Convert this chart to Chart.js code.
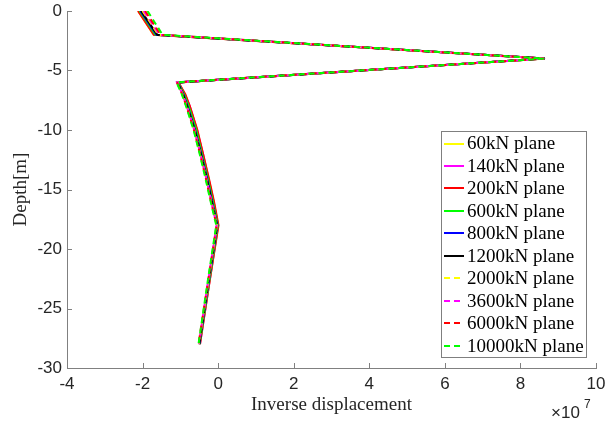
<!DOCTYPE html>
<html>
<head>
<meta charset="utf-8">
<title>Inverse displacement vs depth</title>
<script src="https://cdn.jsdelivr.net/npm/chart.js@4/dist/chart.umd.min.js"></script>
<style>
  html, body { margin: 0; padding: 0; background: #ffffff; }
  #wrap { width: 607px; height: 424px; }
</style>
</head>
<body>
<div id="wrap"><canvas id="plot" width="607" height="424"></canvas></div>
<script>
// Depth of each sample point [m]
const depthM = [0, -2, -4, -6, -7, -8, -10, -12, -14, -16, -18, -23, -28];

// Inverse displacement at each depth, in units of 1e7
const inv60kN    = [-2.12, -1.71, 8.65, -1.05, -0.88, -0.76, -0.56, -0.41, -0.26, -0.12,  0.00, -0.24, -0.49];
const inv140kN   = [-2.11, -1.70, 8.65, -1.05, -0.88, -0.75, -0.56, -0.40, -0.26, -0.12,  0.00, -0.24, -0.48];
const inv200kN   = [-2.12, -1.70, 8.65, -1.05, -0.87, -0.75, -0.55, -0.40, -0.25, -0.11,  0.01, -0.24, -0.48];
const inv600kN   = [-2.08, -1.66, 8.65, -1.06, -0.90, -0.78, -0.58, -0.43, -0.28, -0.14, -0.01, -0.25, -0.49];
const inv800kN   = [-2.06, -1.63, 8.64, -1.07, -0.92, -0.81, -0.61, -0.45, -0.30, -0.16, -0.02, -0.26, -0.50];
const inv1200kN  = [-2.04, -1.61, 8.64, -1.08, -0.93, -0.82, -0.62, -0.46, -0.31, -0.17, -0.03, -0.27, -0.50];
const inv2000kN  = [-2.00, -1.58, 8.63, -1.08, -0.94, -0.83, -0.63, -0.47, -0.32, -0.18, -0.03, -0.27, -0.51];
const inv3600kN  = [-1.97, -1.55, 8.63, -1.09, -0.94, -0.83, -0.63, -0.47, -0.32, -0.18, -0.04, -0.28, -0.51];
const inv6000kN  = [-1.93, -1.52, 8.62, -1.09, -0.95, -0.84, -0.64, -0.48, -0.33, -0.19, -0.04, -0.28, -0.52];
const inv10000kN = [-1.87, -1.47, 8.62, -1.10, -0.96, -0.85, -0.65, -0.49, -0.34, -0.20, -0.05, -0.29, -0.52];

const seriesLabels = ['60kN plane', '140kN plane', '200kN plane', '600kN plane', '800kN plane',
                      '1200kN plane', '2000kN plane', '3600kN plane', '6000kN plane', '10000kN plane'];
const seriesValues = [inv60kN, inv140kN, inv200kN, inv600kN, inv800kN,
                      inv1200kN, inv2000kN, inv3600kN, inv6000kN, inv10000kN];

// Axis ticks
const xTicks = [-4, -2, 0, 2, 4, 6, 8, 10];
const yTicks = [0, -5, -10, -15, -20, -25, -30];

const seriesColors = ['#ffff00', '#ff00ff', '#ff0000', '#00ff00', '#0000ff', '#000000',
                      '#ffff00', '#ff00ff', '#ff0000', '#00ff00'];
const seriesDashed = [false, false, false, false, false, false, true, true, true, true];

const DASH = [6, 4];
const SANS = '"Liberation Sans", Arial, sans-serif';
const SERIF = '"Liberation Serif", "Times New Roman", serif';
const INK = '#262626';
const AXIS = '#808080';

const datasets = seriesValues.map((vals, i) => ({
  label: seriesLabels[i],
  data: vals.map((v, k) => ({ x: v, y: depthM[k] })),
  borderColor: seriesColors[i],
  backgroundColor: seriesColors[i],
  borderWidth: 2,
  borderDash: seriesDashed[i] ? DASH : [],
  pointRadius: 0,
  tension: 0,
  fill: false,
  order: -i          // later series are painted on top
}));

// Inward tick marks, axis titles, exponent note and the boxed legend
const decorations = {
  id: 'decorations',
  afterDraw(chart) {
    const ctx = chart.ctx;
    const xs = chart.scales.x, ys = chart.scales.y;
    const area = chart.chartArea;
    ctx.save();

    // inward ticks
    ctx.strokeStyle = AXIS;
    ctx.lineWidth = 1;
    ctx.beginPath();
    xTicks.forEach(t => {
      const px = Math.round(xs.getPixelForValue(t)) + 0.5;
      ctx.moveTo(px, area.bottom);
      ctx.lineTo(px, area.bottom - 5);
    });
    yTicks.forEach(t => {
      const py = Math.round(ys.getPixelForValue(t)) + 0.5;
      ctx.moveTo(area.left, py);
      ctx.lineTo(area.left + 5, py);
    });
    ctx.stroke();

    // axis titles
    ctx.fillStyle = INK;
    ctx.font = '19px ' + SERIF;
    ctx.textAlign = 'center';
    ctx.textBaseline = 'middle';
    ctx.fillText('Inverse displacement', (area.left + area.right) / 2, 405);
    ctx.save();
    ctx.translate(21, (area.top + area.bottom) / 2);
    ctx.rotate(-Math.PI / 2);
    ctx.fillText('Depth[m]', 0, 0);
    ctx.restore();

    // exponent of the x axis
    ctx.font = '17px ' + SANS;
    ctx.textAlign = 'left';
    ctx.textBaseline = 'alphabetic';
    ctx.fillText('\u00d710', 551, 418);
    ctx.font = '12px ' + SANS;
    ctx.fillText('7', 584, 408);

    // legend
    const bx = 441.5, by = 131.5, bw = 145, bh = 226;
    ctx.fillStyle = '#ffffff';
    ctx.fillRect(bx, by, bw, bh);
    ctx.strokeStyle = '#7f7f7f';
    ctx.lineWidth = 1;
    ctx.strokeRect(bx, by, bw, bh);
    ctx.font = '19px ' + SERIF;
    ctx.textBaseline = 'middle';
    ctx.textAlign = 'left';
    const step = 22.45;
    chart.data.datasets.forEach((ds, i) => {
      const cy = 143.5 + i * step;
      ctx.strokeStyle = ds.borderColor;
      ctx.lineWidth = 2;
      ctx.setLineDash(ds.borderDash.length ? DASH : []);
      ctx.beginPath();
      ctx.moveTo(444, Math.round(cy));
      ctx.lineTo(464, Math.round(cy));
      ctx.stroke();
      ctx.setLineDash([]);
      ctx.fillStyle = '#000000';
      ctx.fillText(ds.label, 467, cy + 1);
    });

    ctx.restore();
  }
};

new Chart(document.getElementById('plot'), {
  type: 'line',
  data: { datasets },
  plugins: [decorations],
  options: {
    responsive: false,
    animation: false,
    events: [],
    layout: { padding: { top: 11, right: 11, left: 0, bottom: 0 } },
    plugins: {
      legend: { display: false },
      tooltip: { enabled: false }
    },
    scales: {
      x: {
        type: 'linear',
        position: 'bottom',
        min: -4,
        max: 10,
        afterFit(scale) {
          scale.height = 56;
          scale.paddingLeft = 0;
          scale.paddingRight = 0;
        },
        afterBuildTicks(scale) { scale.ticks = xTicks.map(v => ({ value: v })); },
        grid: { display: false, drawTicks: false, tickLength: 0 },
        border: { display: true, color: AXIS, width: 1 },
        ticks: {
          padding: 6,
          color: INK,
          font: { family: '"Liberation Sans", Arial, sans-serif', size: 17 },
          maxRotation: 0,
          callback: v => String(v)
        }
      },
      y: {
        type: 'linear',
        position: 'left',
        min: -30,
        max: 0,
        afterFit(scale) {
          scale.width = 67;
          scale.paddingTop = 0;
          scale.paddingBottom = 0;
        },
        afterBuildTicks(scale) { scale.ticks = yTicks.map(v => ({ value: v })); },
        grid: { display: false, drawTicks: false, tickLength: 0 },
        border: { display: true, color: AXIS, width: 1 },
        ticks: {
          padding: 5,
          color: INK,
          font: { family: '"Liberation Sans", Arial, sans-serif', size: 17 },
          callback: v => String(v)
        }
      }
    }
  }
});
</script>
</body>
</html>
